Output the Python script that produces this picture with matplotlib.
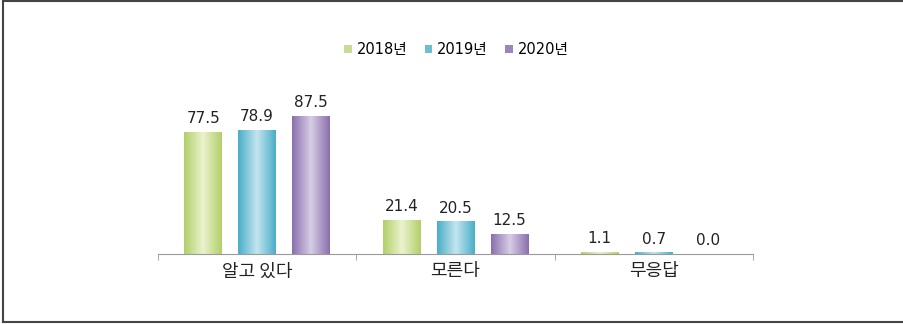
import numpy as np
import matplotlib.pyplot as plt
from matplotlib.colors import LinearSegmentedColormap
from matplotlib.lines import Line2D
from matplotlib.patches import Patch

plt.rcParams['font.family'] = ['DejaVu Sans', 'Noto Sans CJK KR']

# data
categories = ['알고 있다', '모른다', '무응답']
years = ['2018년', '2019년', '2020년']
v2018 = [77.5, 21.4, 1.1]
v2019 = [78.9, 20.5, 0.7]
v2020 = [87.5, 12.5, 0.0]
series = [v2018, v2019, v2020]

edge_cols = ['#b3cf6a', '#4aaec8', '#8a6fae']
mid_cols = ['#eaf2cc', '#c2e4ee', '#d6cce4']
legend_cols = ['#c8dc94', '#6cbfd3', '#9a86bc']

fig = plt.figure(figsize=(9.04, 3.24), dpi=100)
ax = fig.add_axes([0.1748, 0.216, 0.658, 0.4846])

x = np.arange(len(categories))
width = 0.19
offsets = [-0.272, 0.0, 0.272]

grad = np.linspace(0, 1, 64)
grad = np.abs(grad - 0.5) * 2  # 1 at edges, 0 at centre
grad = grad[np.newaxis, :]

for vals, off, ec, mc in zip(series, offsets, edge_cols, mid_cols):
    cmap = LinearSegmentedColormap.from_list('g', [mc, ec])
    for xi, v in zip(x, vals):
        x0 = xi + off - width / 2
        h = max(v, 0.0)
        ax.imshow(grad, cmap=cmap, aspect='auto', extent=(x0, x0 + width, 0, h),
                  interpolation='bicubic', zorder=2)
        ax.text(xi + off, v + 4.0, f'{v:.1f}', ha='center', va='bottom',
                fontsize=11, color='#222222')

ax.set_xlim(-0.5, len(categories) - 0.5)
ax.set_ylim(0, 100)
for s in ['top', 'right', 'left']:
    ax.spines[s].set_visible(False)
ax.spines['bottom'].set_color('#9a9a9a')
ax.set_yticks([])
ax.set_xticks(np.arange(len(categories) + 1) - 0.5, minor=True)
ax.set_xticks(x)
ax.set_xticklabels(categories, fontsize=13, color='#222222',
                   family=['Noto Sans CJK KR', 'DejaVu Sans'])
ax.tick_params(axis='x', which='major', length=0, pad=6)
ax.tick_params(axis='x', which='minor', length=4, color='#9a9a9a', direction='out')

handles = [Patch(facecolor=c, edgecolor='none') for c in legend_cols]
fig.legend(handles, years, loc='center', bbox_to_anchor=(0.505, 0.846), ncol=3,
           frameon=False, fontsize=10.5, handlelength=0.5, handleheight=0.5,
           handletextpad=0.35, columnspacing=1.2)

# frame lines of the picture
fig.add_artist(Line2D([0.0035, 1.0], [0.996, 0.996], color='#444444', lw=1.5))
fig.add_artist(Line2D([0.0035, 0.0035], [0.006, 0.996], color='#444444', lw=1.5))
fig.add_artist(Line2D([0.0035, 1.0], [0.006, 0.006], color='#444444', lw=1.5))

fig.savefig('out.png', dpi=100)
